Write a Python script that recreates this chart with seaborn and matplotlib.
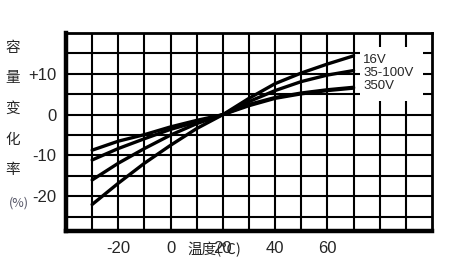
import matplotlib
matplotlib.use("Agg")
import matplotlib.pyplot as plt
import seaborn as sns
import pandas as pd
from matplotlib.patches import Rectangle

# ---- data ----
temps = [-30, -20, -10, 0, 10, 20, 30, 40, 50, 60, 70]
cap_16v = [-22.0, -16.8, -11.9, -7.5, -3.4, 0, 4.0, 7.6, 10.2, 12.4, 14.4]
cap_35_100v = [-16.0, -11.9, -8.3, -5.0, -2.2, 0, 3.2, 5.9, 8.1, 9.7, 10.8]
cap_350v = [-11.1, -8.3, -5.9, -3.6, -1.8, 0, 2.5, 4.2, 5.3, 6.1, 6.7]
cap_extra = [-8.7, -6.5, -4.9, -3.0, -1.4, 0, 2.2, 4.0, 5.1, 5.9, 6.5]
series_names = ["16V", "35-100V", "350V", "_extra"]
legend_labels = ["16V", "35-100V", "350V"]
xtick_vals = [-20, 0, 20, 40, 60]
xtick_labels = ["-20", "0", "20", "40", "60"]
ytick_vals = [10, 0, -10, -20]
ytick_labels = ["+10", "0", "-10", "-20"]
ylabel_chars = ["容", "量", "变", "化", "率"]

rows = []
for name, vals in zip(series_names, [cap_16v, cap_35_100v, cap_350v, cap_extra]):
    for t, v in zip(temps, vals):
        rows.append({"temp": t, "cap": v, "series": name})
df = pd.DataFrame(rows)

sns.set_style("white")
plt.rcParams["font.family"] = ["Liberation Sans", "DejaVu Sans"]

W, H = 465, 274
fig = plt.figure(figsize=(W / 100, H / 100), dpi=100)
ax = fig.add_axes([66 / W, 1 - 231 / H, 366 / W, 198 / H])

sns.lineplot(data=df, x="temp", y="cap", hue="series", units="series",
             estimator=None, palette=["black"] * 4, linewidth=2.4,
             legend=False, ax=ax, zorder=3)

ax.set_xlim(-40, 100)
ax.set_ylim(-28.5, 20)

# grid lines every 10 deg / 5 %
ax.set_xticks(list(range(-30, 100, 10)), minor=True)
ax.set_yticks(list(range(-25, 20, 5)), minor=True)
ax.set_xticks(xtick_vals)
ax.set_xticklabels(xtick_labels)
ax.set_yticks(ytick_vals)
ax.set_yticklabels(ytick_labels)
ax.grid(which="both", color="black", linewidth=1.5)
ax.set_axisbelow(True)
ax.tick_params(which="both", length=0)
ax.tick_params(axis="x", pad=7, labelsize=12)
ax.tick_params(axis="y", pad=7, labelsize=12)
ax.set_xlabel("")
ax.set_ylabel("")

for side in ["left", "bottom"]:
    ax.spines[side].set_linewidth(3.2)
    ax.spines[side].set_color("black")
for side in ["top", "right"]:
    ax.spines[side].set_linewidth(2.0)
    ax.spines[side].set_color("black")

# white box behind legend labels
ax.add_patch(Rectangle((72.5, 3.4), 24.0, 13.2, facecolor="white",
                       edgecolor="none", zorder=2))
for lbl, yv in zip(legend_labels, [13.5, 10.3, 7.0]):
    ax.text(73.6, yv, lbl, fontsize=9.5, va="center", ha="left", zorder=4)

# y-axis title (vertical stacked characters)
cjk = ["Noto Sans CJK SC", "DejaVu Sans"]
for ch, yp in zip(ylabel_chars, [48, 78, 109, 140, 170]):
    fig.text(13 / W, 1 - yp / H, ch, family=cjk, fontsize=10.5,
             ha="center", va="center")
fig.text(19 / W, 1 - 203 / H, "(%)", family=cjk, fontsize=9,
         ha="center", va="center", color="#555566")

# x-axis title
fig.text(214 / W, 1 - 250 / H, "温度(℃)", family=cjk, fontsize=10.5,
         ha="center", va="center")

fig.savefig("out.png", dpi=100)
